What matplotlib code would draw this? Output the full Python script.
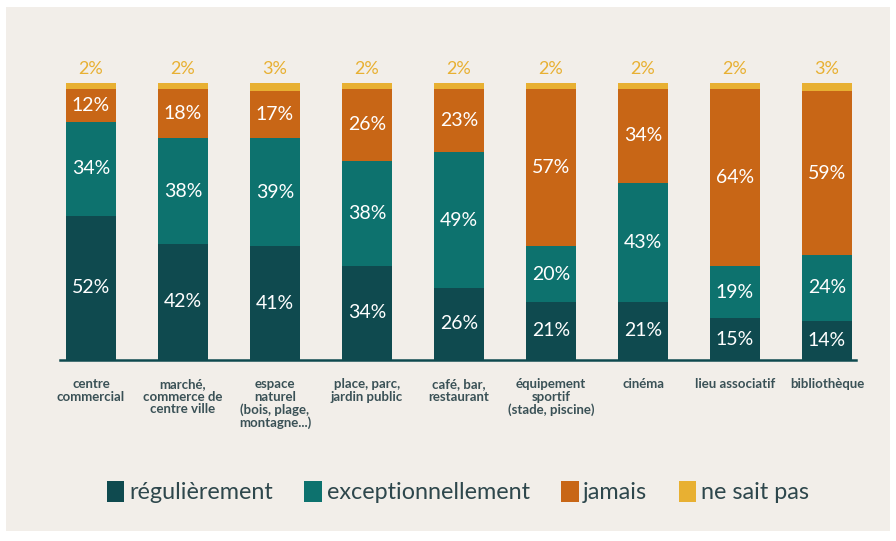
import matplotlib.pyplot as plt
import numpy as np
from matplotlib.patches import Patch, Rectangle

# =============================================================================
# Data
# =============================================================================
categories = ['centre\ncommercial', 'marché,\ncommerce de\ncentre ville',
              'espace\nnaturel\n(bois, plage,\nmontagne...)',
              'place, parc,\njardin public', 'café, bar,\nrestaurant',
              'équipement\nsportif\n(stade, piscine)', 'cinéma',
              'lieu associatif', 'bibliothèque']
regulierement = [52, 42, 41, 34, 26, 21, 21, 15, 14]
exceptionnellement = [34, 38, 39, 38, 49, 20, 43, 19, 24]
jamais = [12, 18, 17, 26, 23, 57, 34, 64, 59]
ne_sait_pas = [2, 2, 3, 2, 2, 2, 2, 2, 3]

series = [('régulièrement', regulierement, '#0f4a4f'),
          ('exceptionnellement', exceptionnellement, '#0d726e'),
          ('jamais', jamais, '#c86616'),
          ('ne sait pas', ne_sait_pas, '#e8b032')]

# =============================================================================
# Figure
# =============================================================================
plt.rcParams['font.family'] = ['Lato', 'DejaVu Sans']
fig = plt.figure(figsize=(8.96, 5.41), dpi=100, facecolor='white')
fig.patches.append(Rectangle((6/896, 10/541), 884/896, 524/541,
                             transform=fig.transFigure, facecolor='#f2eee9',
                             edgecolor='none', zorder=-10))

ax = fig.add_axes([60/896, 181/541, 796/896, 277/541])
ax.set_facecolor('none')

x = np.arange(len(categories))
bottom = np.zeros(len(categories))
for name, vals, col in series:
    vals = np.array(vals)
    ax.bar(x, vals, 0.54, bottom=bottom, color=col, label=name, zorder=2)
    for xi, b, v in zip(x, bottom, vals):
        if name == 'ne sait pas':
            ax.text(xi, b + v + 2.0, '%d%%' % v, ha='center', va='bottom',
                    color='#e8b032', fontsize=13, clip_on=False)
        else:
            ax.text(xi, b + v / 2, '%d%%' % v, ha='center', va='center',
                    color='white', fontsize=14)
    bottom += vals

ax.set_xlim(-0.337, 8.315)
ax.set_ylim(0, 100)
ax.set_yticks([])
ax.set_xticks(x)
ax.set_xticklabels(categories, fontsize=9.5, color='#3a5156',
                   fontweight='bold', linespacing=1.05)
ax.tick_params(axis='x', length=0, pad=13)
for s in ['top', 'right', 'left']:
    ax.spines[s].set_visible(False)
ax.spines['bottom'].set_color('#0f4a4f')
ax.spines['bottom'].set_linewidth(1.8)

handles = [Patch(facecolor=c, edgecolor='none') for _, _, c in series]
fig.legend(handles, [n for n, _, _ in series], loc='center',
           bbox_to_anchor=(458/896, 1 - 492/541), ncol=4, frameon=False,
           fontsize=16.8, handlelength=0.75, handleheight=1.0,
           handletextpad=0.2, columnspacing=1.35, labelcolor='#2e474c')

fig.savefig('out.png', dpi=100, facecolor=fig.get_facecolor())
